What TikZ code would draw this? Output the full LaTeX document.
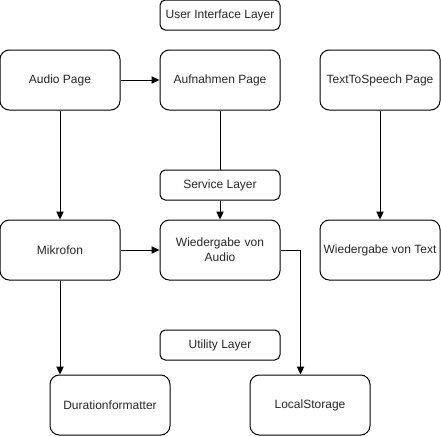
\documentclass[tikz,border=0pt]{standalone}
\usepackage{fontspec}
\setmainfont{Liberation Sans}
\usetikzlibrary{arrows.meta}
\begin{document}
\begin{tikzpicture}[x=0.75pt,y=-0.75pt,
  box/.style={draw=black,line width=0.75pt,rounded corners=7pt,minimum width=90pt,minimum height=45pt,inner sep=1pt,align=center,text=black!85,font=\fontsize{9}{11}\selectfont,fill=white},
  layer/.style={draw=black,line width=0.75pt,rounded corners=4pt,minimum width=90pt,minimum height=22.5pt,inner sep=1pt,align=center,text=black!85,font=\fontsize{9}{11}\selectfont,fill=white},
  conn/.style={line width=0.75pt,draw=black},
  arr/.style={conn,-{Triangle[length=6pt,width=5.5pt]}}]
\useasboundingbox (0,0) rectangle (441,436);
\node[layer] (uil) at (220,15) {User Interface Layer};
\node[box] (audio) at (60,80) {Audio Page};
\node[box] (aufn) at (220,80) {Aufnahmen Page};
\node[box] (tts) at (380,80) {TextToSpeech Page};
\node[layer] (svc) at (220,185) {Service Layer};
\node[box] (mik) at (60,250) {Mikrofon};
\node[box,text width=86pt] (wga) at (220,250) {Wiedergabe von\\Audio};
\node[box] (wgt) at (380,250) {Wiedergabe von Text};
\node[layer] (util) at (220,345) {Utility Layer};
\node[box] (dur) at (110,405) {Durationformatter};
\node[box] (ls) at (310,405) {LocalStorage};
\draw[arr] (audio.east) -- (aufn.west);
\draw[arr] (audio.south) -- (mik.north);
\draw[conn] (aufn.south) -- (svc.north);
\draw[arr] (svc.south) -- (wga.north);
\draw[arr] (tts.south) -- (wgt.north);
\draw[arr] (mik.east) -- (wga.west);
\draw[arr] (mik.south) -- (mik.south |- dur.north);
\draw[arr] (wga.east) -- ++(20,0) coordinate (c1) -- (c1 |- ls.north);
\end{tikzpicture}
\end{document}
